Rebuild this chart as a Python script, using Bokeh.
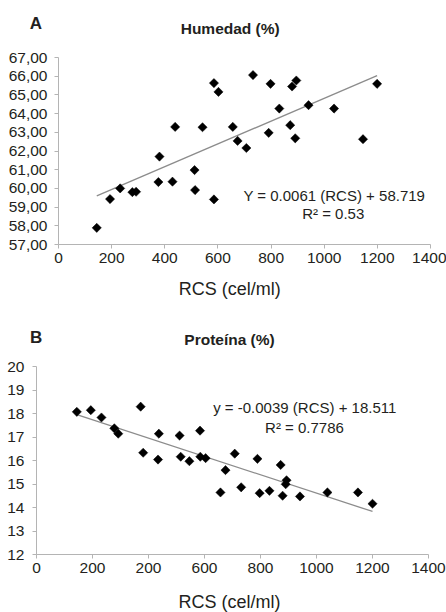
import math
from bokeh.plotting import figure
from bokeh.layouts import column
from bokeh.models import Label, FixedTicker, Range1d
from bokeh.embed import file_html
from bokeh.resources import INLINE

# ---------------- data ----------------
rcs_a = [144, 194, 232, 278, 292, 376, 380, 429, 439, 512, 514, 542, 585, 585, 602,
         656, 674, 707, 732, 791, 798, 831, 872, 879, 891, 895, 941, 1037, 1146, 1199]
humedad = [57.89, 59.43, 60.00, 59.80, 59.82, 60.34, 61.70, 60.36, 63.29, 60.98, 59.91,
           63.27, 65.63, 59.41, 65.16, 63.29, 62.54, 62.16, 66.06, 62.97, 65.59, 64.27,
           63.38, 65.45, 62.68, 65.77, 64.45, 64.27, 62.63, 65.59]

rcs_b = [144, 194, 232, 278, 292, 372, 381, 434, 437, 511, 515, 546, 584, 585, 604,
         657, 675, 708, 731, 789, 797, 832, 872, 879, 890, 893, 941, 1039, 1148, 1200]
proteina = [18.07, 18.14, 17.83, 17.37, 17.14, 18.29, 16.33, 16.04, 17.14, 17.06, 16.16,
            15.97, 17.27, 16.16, 16.10, 14.64, 15.59, 16.29, 14.86, 16.07, 14.61, 14.71,
            15.81, 14.50, 14.99, 15.16, 14.47, 14.64, 14.64, 14.16]

x_ticks = [0, 200, 400, 600, 800, 1000, 1200, 1400]
x_tick_labels_a = ["0", "200", "400", "600", "800", "1000", "1200", "1400"]
x_tick_labels_b = ["0", "200", "200", "600", "800", "1000", "1200", "1400"]
y_ticks_a = [57, 58, 59, 60, 61, 62, 63, 64, 65, 66, 67]
y_tick_labels_a = ["57,00", "58,00", "59,00", "60,00", "61,00", "62,00", "63,00",
                   "64,00", "65,00", "66,00", "67,00"]
y_ticks_b = [12, 13, 14, 15, 16, 17, 18, 19, 20]
y_tick_labels_b = ["12", "13", "14", "15", "16", "17", "18", "19", "20"]

slope_a, intercept_a = 0.0061, 58.719
slope_b, intercept_b = -0.0039, 18.511
eq_a = "Y = 0.0061 (RCS) + 58.719"
r2_a = "R\u00b2 = 0.53"
eq_b = "y = -0.0039 (RCS) + 18.511"
r2_b = "R\u00b2 = 0.7786"
title_a, title_b = "Humedad (%)", "Prote\u00edna (%)"
panel_a, panel_b = "A", "B"
x_label = "RCS (cel/ml)"

FONT = "Liberation Sans"
TXT = "#231f20"
AXC = "#b4b4b4"
W = 446


def base(h, **kw):
    p = figure(width=W, height=h, output_backend="svg", toolbar_location=None, **kw)
    p.frame_align = False
    p.outline_line_color = None
    p.background_fill_color = "white"
    p.border_fill_color = "white"
    return p


def strip(h, labels):
    p = base(h, x_range=Range1d(0, W), y_range=Range1d(h, 0),
             x_axis_type=None, y_axis_type=None,
             min_border_left=0, min_border_right=0, min_border_top=0, min_border_bottom=0)
    for (x, y, txt, size, bold) in labels:
        p.add_layout(Label(x=x, y=y, text=txt, text_font=FONT, text_font_size=size,
                           text_font_style="bold" if bold else "normal",
                           text_color=TXT, text_align="center", text_baseline="middle"))
    return p


def chart(h, xs, ys, xt, xtl, yt, ytl, slope, icpt, ymin, ymax, borders,
          so_x, so_y, notes):
    l, r, t, b = borders
    p = base(h, x_range=Range1d(0, 1400), y_range=Range1d(ymin, ymax),
             min_border_left=l, min_border_right=r, min_border_top=t, min_border_bottom=b)
    p.xgrid.visible = False
    p.ygrid.visible = False
    for ax, ticks, tl, so in ((p.xaxis[0], xt, xtl, so_x), (p.yaxis[0], yt, ytl, so_y)):
        ax.ticker = FixedTicker(ticks=ticks)
        ax.major_label_overrides = {k: v for k, v in zip(ticks, tl)}
        ax.axis_line_color = AXC
        ax.major_tick_line_color = AXC
        ax.major_tick_out = 4
        ax.major_tick_in = 0
        ax.minor_tick_line_color = None
        ax.major_label_standoff = so
        ax.major_label_text_font = FONT
        ax.major_label_text_font_size = "15.5px"
        ax.major_label_text_color = TXT

    x0, x1 = min(xs), max(xs)
    p.line([x0, x1], [slope * x0 + icpt, slope * x1 + icpt],
           line_color="#8c8c8c", line_width=1.3)
    p.scatter(xs, ys, marker="square", angle=math.pi / 4, size=6.5,
              fill_color="black", line_color="black", line_width=0.5)
    for (x, y, txt) in notes:
        p.add_layout(Label(x=x, y=y, text=txt, text_font=FONT, text_font_size="15px",
                           text_color=TXT, text_align="center", text_baseline="middle"))
    return p


head_a = strip(48, [(35.5, 23, panel_a, "17px", True), (229.7, 28, title_a, "15.5px", True)])
chart_a = chart(230, rcs_a, humedad, x_ticks, x_tick_labels_a, y_ticks_a, y_tick_labels_a,
                slope_a, intercept_a, 57, 67, (58, 16, 9, 34), 4, 7,
                [(1038, 59.62, eq_a), (1034, 58.65, r2_a)])
foot_a = strip(28, [(229.3, 10, x_label, "18px", False)])

head_b = strip(50, [(35.7, 31.3, panel_b, "17px", True), (229, 33, title_b, "15.5px", True)])
chart_b = chart(228, rcs_b, proteina, x_ticks, x_tick_labels_b, y_ticks_b, y_tick_labels_b,
                slope_b, intercept_b, 12, 20, (36, 18, 10, 30), 4, 8,
                [(958, 18.25, eq_b), (957, 17.40, r2_b)])
foot_b = strip(28, [(229, 17.7, x_label, "18px", False)])

layout = column(head_a, chart_a, foot_a, head_b, chart_b, foot_b, spacing=0)
open("out.html", "w").write(file_html(layout, INLINE))
